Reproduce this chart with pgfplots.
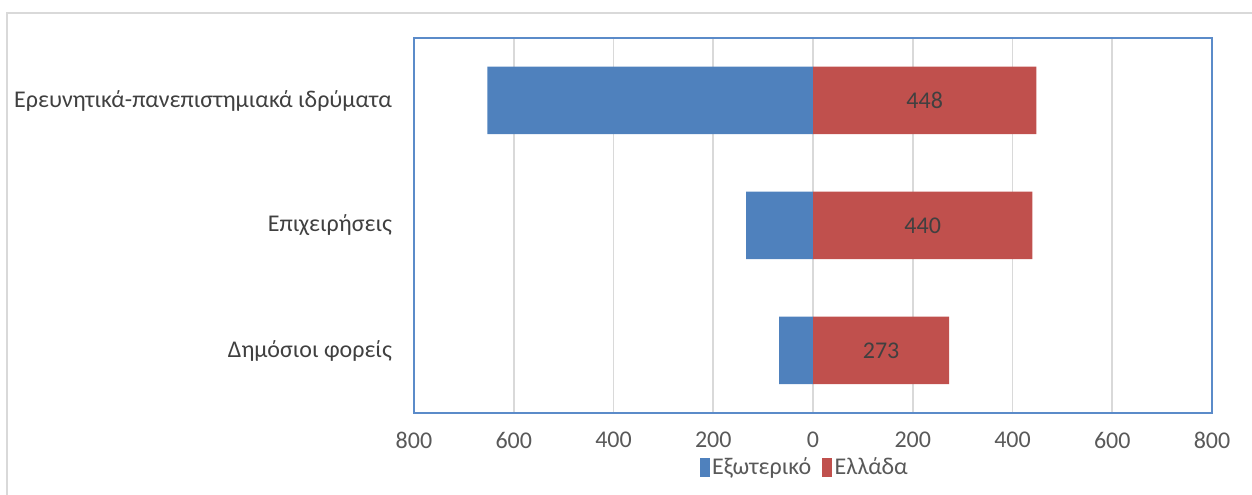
\documentclass[border=0pt]{standalone}
\usepackage{pgfplots}
\pgfplotsset{compat=1.18}
\usepackage{pgfplotstable}
\usepackage{fontspec}
\setmainfont{Carlito}
\definecolor{exo}{HTML}{4F81BD}
\definecolor{ell}{HTML}{C0504D}
\definecolor{gridc}{HTML}{D9D9D9}
\definecolor{frame}{HTML}{5B8BC9}
\definecolor{txt}{HTML}{595959}
\definecolor{lbl}{HTML}{404040}

% y: 1 = Δημόσιοι φορείς, 2 = Επιχειρήσεις, 3 = Ερευνητικά-πανεπιστημιακά ιδρύματα
\pgfplotstableread{
y  ext   gr
1  -68   273
2  -134  440
3  -653  448
}\datatable

\begin{document}
\begin{tikzpicture}
\useasboundingbox (-310.5pt,-61.5pt) rectangle (628.5pt,309.75pt);
\draw[gridc, line width=1.1pt] (-305.25pt,-61.5pt) -- (-305.25pt,300pt) -- (628.5pt,300pt);
\begin{axis}[
  at={(0,0)}, anchor=south west,
  scale only axis,
  width=598.5pt, height=281.25pt,
  xmin=-800, xmax=800,
  ymin=0.5, ymax=3.5,
  xtick={-800,-600,...,800},
  xticklabels={800,600,400,200,0,200,400,600,800},
  ytick={1,2,3},
  yticklabels={Δημόσιοι φορείς, Επιχειρήσεις, Ερευνητικά-πανεπιστημιακά ιδρύματα},
  major tick length=0pt,
  xmajorgrids=true,
  grid style={gridc, line width=1.2pt},
  axis line style={frame, line width=1.1pt},
  tick label style={font=\fontsize{18pt}{20pt}\selectfont},
  xticklabel style={txt, yshift=-11pt},
  yticklabel style={lbl, xshift=-13pt},
  /pgf/number format/assume math mode=true,
  legend style={at={(0.49,-0.145)}, anchor=center, draw=none,
    font=\fontsize{18pt}{20pt}\selectfont\color{txt}, legend columns=2,
    /tikz/every even column/.append style={column sep=6pt}},
  legend image code/.code={\fill[#1] (0pt,-7pt) rectangle (7.5pt,7pt);},
]
\addplot[xbar, bar width=0.54, bar shift=0pt, fill=exo, draw=none] table[x=ext, y=y] {\datatable};
\addlegendentry{Εξωτερικό}
\addplot[xbar, bar width=0.54, bar shift=0pt, fill=ell, draw=none] table[x=gr, y=y] {\datatable};
\addlegendentry{Ελλάδα}
\addplot[draw=none, mark=none, forget plot,
  nodes near coords, point meta=explicit,
  nodes near coords style={anchor=center, lbl, font=\fontsize{18pt}{20pt}\selectfont},
] table[x expr=\thisrow{gr}/2, y=y, meta=gr] {\datatable};
\end{axis}
\end{tikzpicture}
\end{document}
